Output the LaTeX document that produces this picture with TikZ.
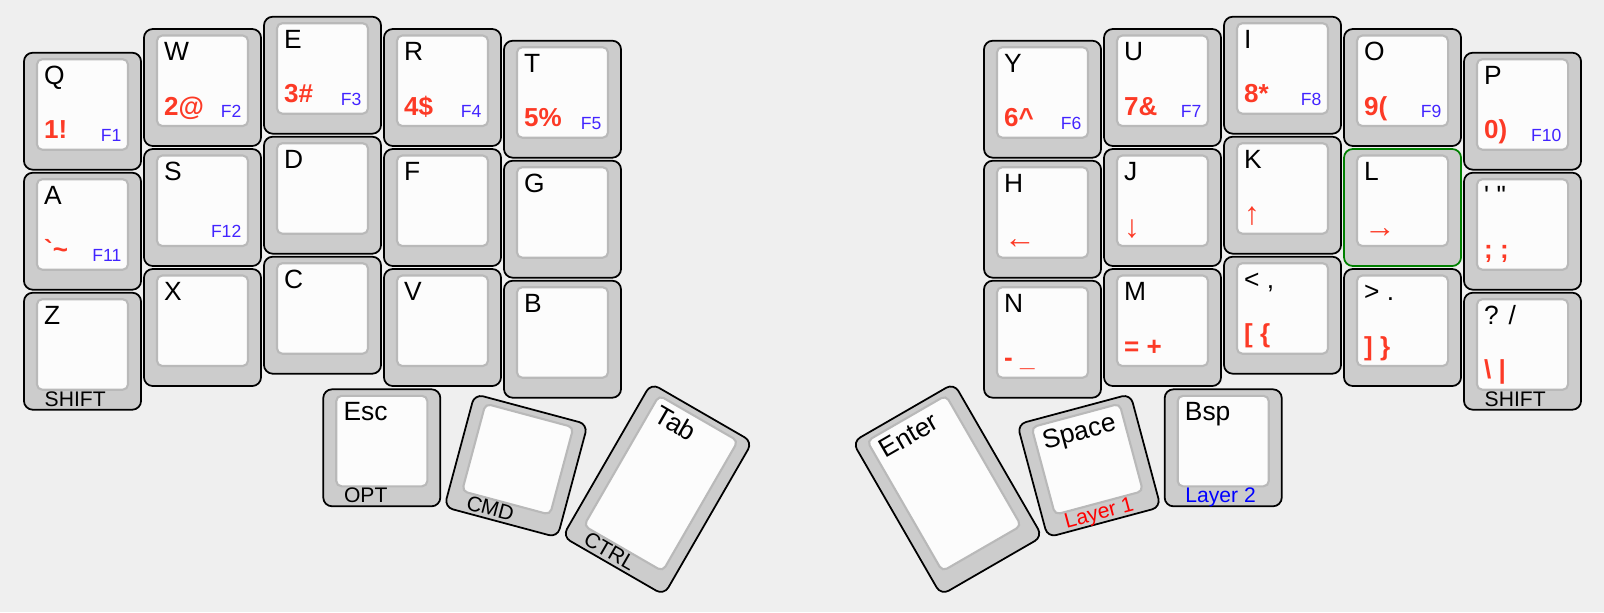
\documentclass[tikz,border=0pt]{standalone}
\usepackage{fontspec}
\setmainfont{Liberation Sans}
\definecolor{kbbg}{RGB}{239,239,239}
\definecolor{kbrim}{RGB}{204,204,204}
\definecolor{kbface}{RGB}{252,252,252}
\definecolor{kbedge}{RGB}{185,185,185}
\definecolor{kbred}{RGB}{252,58,38}
\definecolor{kbblue}{RGB}{66,36,255}
\definecolor{kbgreen}{RGB}{0,128,0}
\definecolor{layerred}{RGB}{255,0,0}
\definecolor{layerblue}{RGB}{0,0,255}

\newcommand{\keyarrow}[1]{{\mdseries\fontsize{9}{10}\selectfont\raisebox{-0.6pt}{#1}}}

% one key: [extra base style]{name}{centre}{angle}{height}{top}{shifted}{fn}{front}
\newcommand{\keycap}[9][]{%
  \begin{scope}[shift={(#3)}, rotate=#4, transform shape]
    \node[keybase, minimum height=#5*0.01cm, #1] (#2) at (0,0) {};
    \node[keytop, minimum height=(#5-26.5)*0.01cm] (#2-top) at (0,6.75) {};
    \if\relax\detokenize{#6}\relax\else
      \node[legtop]   (#2-tl) at (-39,{#5/2-31.5}) {#6};\fi
    \if\relax\detokenize{#7}\relax\else
      \node[legshift] (#2-bl) at (-39,{#5/2-86}) {#7};\fi
    \if\relax\detokenize{#8}\relax\else
      \node[legfn]    (#2-br) at (39.5,{#5/2-88.5}) {#8};\fi
    \if\relax\detokenize{#9}\relax\else
      \node[legfront] (#2-fr) at (-38.5,{3.5-#5/2}) {#9};\fi
  \end{scope}}

\begin{document}
\begin{tikzpicture}[
  x=0.01cm, y=0.01cm,
  keybase/.style={draw=black, fill=kbrim, rounded corners=2.5pt,
                  line width=0.5pt, minimum width=1.17cm, inner sep=0pt},
  keytop/.style={draw=kbedge, fill=kbface, rounded corners=1.5pt,
                 line width=0.6pt, minimum width=0.91cm, inner sep=0pt},
  legtop/.style={anchor=base west, inner sep=0pt,
                 font=\fontsize{7.5}{9}\selectfont},
  legshift/.style={anchor=base west, inner sep=0pt, text=kbred,
                   font=\fontsize{7.4}{9}\selectfont\bfseries},
  legfn/.style={anchor=base east, inner sep=0pt, text=kbblue,
                font=\fontsize{5}{6}\selectfont},
  legfront/.style={anchor=base west, inner sep=0pt,
                   font=\fontsize{6}{7}\selectfont}
]
  \fill[kbbg] (0,0) rectangle (1604,-612);
  \useasboundingbox (0,0) rectangle (1604,-612);

  % left half
  \keycap{Q}{82.5,-111.2}{0}{117}{Q}{1!}{F1}{}
  \keycap{A}{82.5,-231.2}{0}{117}{A}{\textasciigrave\textasciitilde}{F11}{}
  \keycap{Z}{82.5,-351.2}{0}{117}{Z}{}{}{SHIFT}
  \keycap{W}{202.5,-87.5}{0}{117}{W}{2@}{F2}{}
  \keycap{S}{202.5,-207.5}{0}{117}{S}{}{F12}{}
  \keycap{X}{202.5,-327.5}{0}{117}{X}{}{}{}
  \keycap{E}{322.5,-75.2}{0}{117}{E}{3\#}{F3}{}
  \keycap{D}{322.5,-195.2}{0}{117}{D}{}{}{}
  \keycap{C}{322.5,-315.2}{0}{117}{C}{}{}{}
  \keycap{R}{442.5,-87.5}{0}{117}{R}{4\$}{F4}{}
  \keycap{F}{442.5,-207.5}{0}{117}{F}{}{}{}
  \keycap{V}{442.5,-327.5}{0}{117}{V}{}{}{}
  \keycap{T}{562.5,-99.2}{0}{117}{T}{5\%}{F5}{}
  \keycap{G}{562.5,-219.2}{0}{117}{G}{}{}{}
  \keycap{B}{562.5,-339.2}{0}{117}{B}{}{}{}

  % right half
  \keycap{Y}{1042.5,-99.2}{0}{117}{Y}{6\textasciicircum}{F6}{}
  \keycap{H}{1042.5,-219.2}{0}{117}{H}{\keyarrow{←}}{}{}
  \keycap{N}{1042.5,-339.2}{0}{117}{N}{- \_}{}{}
  \keycap{U}{1162.5,-87.5}{0}{117}{U}{7\&}{F7}{}
  \keycap{J}{1162.5,-207.5}{0}{117}{J}{\keyarrow{↓}}{}{}
  \keycap{M}{1162.5,-327.5}{0}{117}{M}{= +}{}{}
  \keycap{I}{1282.5,-75.2}{0}{117}{I}{8*}{F8}{}
  \keycap{K}{1282.5,-195.2}{0}{117}{K}{\keyarrow{↑}}{}{}
  \keycap{comma}{1282.5,-315.2}{0}{117}{< ,}{[ \{}{}{}
  \keycap{O}{1402.5,-87.5}{0}{117}{O}{9(}{F9}{}
  \keycap[draw=kbgreen]{L}{1402.5,-207.5}{0}{117}{L}{\keyarrow{→}}{}{}
  \keycap{period}{1402.5,-327.5}{0}{117}{> .}{] \}}{}{}
  \keycap{P}{1522.5,-111.2}{0}{117}{P}{0)}{F10}{}
  \keycap{quote}{1522.5,-231.2}{0}{117}{\textquotesingle\ \textquotedbl}{; ;}{}{}
  \keycap{slash}{1522.5,-351.2}{0}{117}{? /}{\textbackslash\ \textbar}{}{SHIFT}

  % thumb cluster
  \keycap{Esc}{381.8,-447.8}{0}{117}{Esc}{}{}{OPT}
  \keycap{cmd}{516,-465.7}{-15}{117}{}{}{}{CMD}
  \keycap{Tab}{657.5,-489.2}{-30}{177}{Tab}{}{}{CTRL}
  \keycap{Enter}{947.5,-489.2}{30}{177}{Enter}{}{}{}
  \keycap{Space}{1089,-465.7}{15}{117}{Space}{}{}{\color{layerred}Layer 1}
  \keycap{Bsp}{1223.2,-447.8}{0}{117}{Bsp}{}{}{\color{layerblue}Layer 2}
\end{tikzpicture}
\end{document}
